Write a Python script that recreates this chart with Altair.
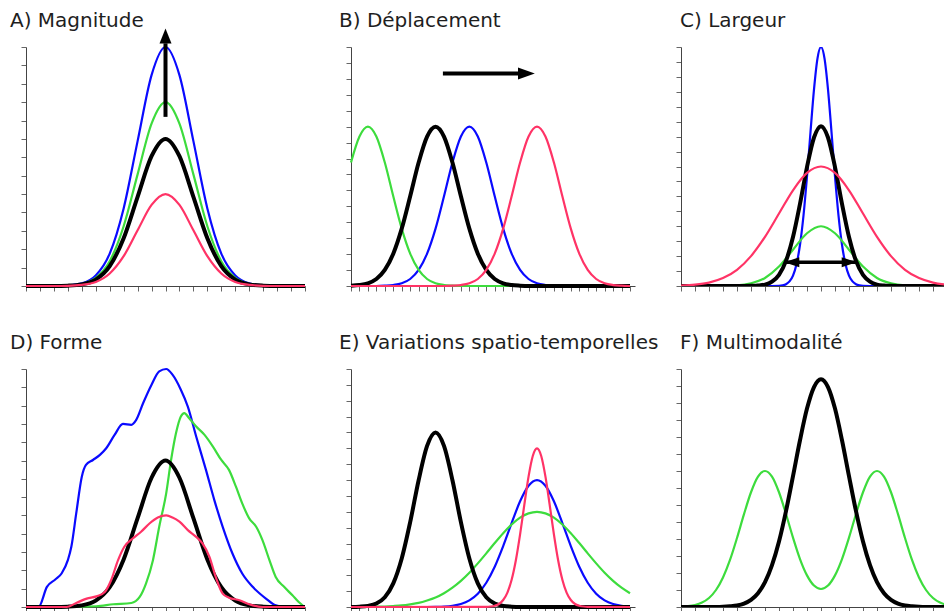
import altair as alt
import pandas as pd

BLUE = "#0a0aff"
GREEN = "#3ddc3d"
RED = "#ff3366"
BLACK = "#000000"

TITLES = ["A) Magnitude", "B) Déplacement", "C) Largeur",
          "D) Forme", "E) Variations spatio-temporelles", "F) Multimodalité"]

# ---------------- A) Magnitude ----------------
A_X = list(range(21))
A_BLUE = [0, 0, 0, 0.03, 0.14, 0.57, 1.76, 4.22, 7.88, 11.47, 13, 11.47, 7.88, 4.22, 1.76, 0.57, 0.14, 0.03, 0, 0, 0]
A_GREEN = [0, 0, 0, 0.02, 0.11, 0.44, 1.35, 3.25, 6.07, 8.83, 10, 8.83, 6.07, 3.25, 1.35, 0.44, 0.11, 0.02, 0, 0, 0]
A_BLACK = [0, 0, 0, 0.02, 0.09, 0.35, 1.08, 2.60, 4.85, 7.06, 8, 7.06, 4.85, 2.60, 1.08, 0.35, 0.09, 0.02, 0, 0, 0]
A_RED = [0, 0, 0, 0.01, 0.06, 0.22, 0.68, 1.62, 3.03, 4.41, 5, 4.41, 3.03, 1.62, 0.68, 0.22, 0.06, 0.01, 0, 0, 0]
A_ARROW = {"x": [10], "y": [9.2], "y2": [13.2]}
A_HEAD = {"x": [10], "y": [14.0]}

# ---------------- B) Deplacement ----------------
B_X = list(range(34))
B_GREEN = [7.75, 9.38, 10, 9.38, 7.75, 5.63, 3.60, 2.03, 1.01, 0.44, 0.17, 0.06, 0.02] + [0] * 21
B_BLACK = [0.02, 0.06, 0.17, 0.44, 1.01, 2.03, 3.60, 5.63, 7.75, 9.38, 10, 9.38, 7.75, 5.63, 3.60, 2.03,
           1.01, 0.44, 0.17, 0.06, 0.02] + [0] * 13
B_BLUE = [0] * 4 + [0.02, 0.06, 0.17, 0.44, 1.01, 2.03, 3.60, 5.63, 7.75, 9.38, 10, 9.38, 7.75, 5.63, 3.60,
                    2.03, 1.01, 0.44, 0.17, 0.06, 0.02] + [0] * 9
B_RED = [0] * 12 + [0.02, 0.06, 0.17, 0.44, 1.01, 2.03, 3.60, 5.63, 7.75, 9.38, 10, 9.38, 7.75, 5.63, 3.60,
                    2.03, 1.01, 0.44, 0.17, 0.06, 0.02] + [0]
B_ARROW = {"x": [10.87], "x2": [20.0], "y": [13.34]}
B_HEAD = {"x": [21.74], "y": [13.34]}

# ---------------- C) Largeur ----------------
C_X = list(range(21))
C_X_BLUE = [0, 6.5, 7.0, 7.25, 7.5, 7.75, 8.0, 8.25, 8.5, 8.75, 9.0, 9.25, 9.5, 9.75, 10.0, 10.25, 10.5,
            10.75, 11.0, 11.25, 11.5, 11.75, 12.0, 12.25, 12.5, 12.75, 13.0, 13.5, 20]
C_BLUE = [0, 0, 0.01, 0.04, 0.12, 0.31, 0.70, 1.46, 2.76, 4.72, 7.33, 10.31, 13.16, 15.24, 16, 15.24, 13.16,
          10.31, 7.33, 4.72, 2.76, 1.46, 0.70, 0.31, 0.12, 0.04, 0.01, 0, 0]
C_X_BLACK = [0, 4, 4.5, 5, 5.5, 6, 6.5, 7, 7.5, 8, 8.5, 9, 9.5, 10, 10.5, 11, 11.5, 12, 12.5, 13, 13.5, 14,
             14.5, 15, 15.5, 16, 20]
C_BLACK = [0, 0, 0, 0.01, 0.03, 0.09, 0.29, 0.75, 1.68, 3.28, 5.50, 7.96, 9.94, 10.7, 9.94, 7.96, 5.50, 3.28,
           1.68, 0.75, 0.29, 0.09, 0.03, 0.01, 0, 0, 0]
C_RED = [0.03, 0.09, 0.23, 0.53, 1.08, 2.00, 3.29, 4.85, 6.41, 7.57, 8, 7.57, 6.41, 4.85, 3.29, 2.00, 1.08,
         0.53, 0.23, 0.09, 0.03]
C_GREEN = [0, 0, 0, 0.01, 0.04, 0.18, 0.54, 1.30, 2.43, 3.53, 4, 3.53, 2.43, 1.30, 0.54, 0.18, 0.04, 0.01, 0, 0, 0]
C_ARROW = {"x": [7.38], "x2": [12.55], "y": [1.59]}
C_HEAD_L = {"x": [7.38], "y": [1.59]}
C_HEAD_R = {"x": [12.55], "y": [1.59]}

# ---------------- D) Forme ----------------
D_X = list(range(21))
D_BLACK = [0, 0, 0, 0.02, 0.09, 0.35, 1.08, 2.60, 4.85, 7.06, 8, 7.06, 4.85, 2.60, 1.08, 0.35, 0.09, 0.02, 0, 0, 0]
D_X_BLUE = [0, 0.9, 1.5, 2.1, 2.55, 3.0, 3.25, 3.6, 4.0, 4.3, 4.8, 5.3, 5.75, 6.35, 6.95, 7.55, 7.9, 8.4, 9.0,
            9.55, 10.05, 10.5, 11.1, 11.6, 12.2, 12.9, 13.5, 14.1, 14.8, 15.5, 16.25, 17.2, 17.9, 18.6, 20]
D_BLUE = [0, 0, 1.1, 1.5, 1.83, 2.56, 3.29, 5.11, 7.12, 7.76, 8.03, 8.31, 8.67, 9.40, 10.0, 9.95, 10.22, 11.14,
          12.14, 12.87, 13, 12.69, 11.87, 10.95, 9.31, 7.49, 5.84, 4.38, 2.92, 1.83, 1.10, 0.46, 0.09, 0, 0]
D_X_RED = [0, 1.95, 2.9, 3.6, 4.35, 5.05, 5.65, 6.1, 6.6, 7.05, 7.65, 8.25, 8.85, 9.45, 10.05, 10.5, 11.0,
           11.6, 12.2, 12.65, 13.15, 13.6, 14.1, 14.55, 15.3, 16.0, 16.95, 20]
D_RED = [0, 0, 0, 0.22, 0.46, 0.58, 0.82, 1.46, 2.56, 3.29, 3.74, 4.11, 4.56, 4.89, 5.0, 4.89, 4.66, 4.20, 3.83,
         3.47, 2.74, 1.64, 0.73, 0.51, 0.37, 0.15, 0, 0]
D_X_GREEN = [1.95, 5.05, 6.25, 7.55, 8.15, 8.6, 9.1, 9.55, 10.05, 10.4, 10.75, 11.1, 11.35, 11.7, 12.2, 12.8,
             13.4, 14.0, 14.55, 15.05, 15.5, 16.0, 16.5, 16.95, 17.45, 17.9, 18.5, 19.1, 19.55, 19.9]
D_GREEN = [0, 0.04, 0.15, 0.22, 0.55, 1.28, 2.56, 4.38, 6.21, 8.03, 9.49, 10.41, 10.59, 10.31, 9.86, 9.40, 8.76,
           8.03, 7.49, 6.57, 5.66, 4.84, 4.38, 3.65, 2.56, 1.64, 1.10, 0.64, 0.27, 0.04]

# ---------------- E) Variations spatio-temporelles ----------------
E_X = list(range(34))
E_BLACK = [0, 0.02, 0.07, 0.22, 0.62, 1.49, 3.06, 5.35, 7.99, 10.15, 11, 10.15, 7.99, 5.35, 3.06, 1.49, 0.62,
           0.22, 0.07, 0.02] + [0] * 14
E_GREEN = [0, 0.01, 0.01, 0.02, 0.03, 0.06, 0.10, 0.17, 0.26, 0.41, 0.60, 0.87, 1.22, 1.65, 2.16, 2.75, 3.38,
           4.03, 4.65, 5.20, 5.63, 5.90, 6, 5.90, 5.63, 5.20, 4.65, 4.03, 3.38, 2.75, 2.16, 1.65, 1.22, 0.87]
E_BLUE = [0] * 10 + [0.01, 0.03, 0.08, 0.19, 0.42, 0.84, 1.53, 2.54, 3.84, 5.29, 6.66, 7.64, 8, 7.64, 6.66,
                     5.29, 3.84, 2.54, 1.53, 0.84, 0.42, 0.19, 0.08, 0.03]
E_X_RED = [0, 16, 16.5, 17, 17.5, 18, 18.5, 19, 19.5, 20, 20.5, 21, 21.5, 22, 22.5, 23, 23.5, 24, 24.5, 25,
           25.5, 26, 26.5, 27, 27.5, 28, 33]
E_RED = [0, 0.01, 0.03, 0.08, 0.19, 0.44, 0.91, 1.72, 2.95, 4.58, 6.44, 8.22, 9.52, 10, 9.52, 8.22, 6.44, 4.58,
         2.95, 1.72, 0.91, 0.44, 0.19, 0.08, 0.03, 0.01, 0]

# ---------------- F) Multimodalite ----------------
F_X = [i / 2 for i in range(41)]
F_GREEN = [0.02, 0.05, 0.12, 0.26, 0.53, 1.00, 1.74, 2.77, 4.06, 5.46, 6.75, 7.67, 8, 7.67, 6.75, 5.47, 4.08,
           2.82, 1.86, 1.26, 1.06, 1.26, 1.86, 2.82, 4.08, 5.47, 6.75, 7.67, 8, 7.67, 6.75, 5.46, 4.06, 2.77,
           1.74, 1.00, 0.53, 0.26, 0.12, 0.05, 0.02]
F_BLACK = [0, 0, 0, 0, 0, 0, 0.01, 0.04, 0.09, 0.20, 0.42, 0.81, 1.46, 2.46, 3.85, 5.64, 7.70, 9.81, 11.67,
           12.94, 13.4, 12.94, 11.67, 9.81, 7.70, 5.64, 3.85, 2.46, 1.46, 0.81, 0.42, 0.20, 0.09, 0.04, 0.01,
           0, 0, 0, 0, 0, 0]

UP_HEAD = "M0,0L-1,2.5L1,2.5Z"
RIGHT_HEAD = "M0,0L-2.8,-1L-2.8,1Z"
C_RIGHT = "M0,0L-3,-1L-3,1Z"
C_LEFT = "M0,0L3,-1L3,1Z"


def encs(xmax, ymax, xdom_max=None):
    xe = alt.X("x:Q", scale=alt.Scale(domain=[0, xdom_max if xdom_max else xmax], nice=False, zero=False),
               axis=alt.Axis(values=list(range(xmax + 1))))
    ye = alt.Y("y:Q", scale=alt.Scale(domain=[0, ymax], nice=False, zero=False),
               axis=alt.Axis(values=list(range(ymax + 1))))
    return xe, ye


def curve(xs, ys, color, width, xe, ye, clip):
    df = pd.DataFrame({"x": xs, "y": ys})
    return alt.Chart(df).mark_line(color=color, strokeWidth=width, interpolate="monotone", clip=clip,
                                   strokeJoin="round", strokeCap="butt").encode(x=xe, y=ye)


def title_layer(text, dx):
    df = pd.DataFrame({"t": [text]})
    return alt.Chart(df).mark_text(align="left", baseline="alphabetic", fontSize=20, font="DejaVu Sans",
                                   color="#1e1e1e").encode(x=alt.value(dx), y=alt.value(-20), text="t:N")


def head(data, shape, size, xe, ye):
    return alt.Chart(pd.DataFrame(data)).mark_point(shape=shape, size=size, filled=True, color=BLACK,
                                                    opacity=1, strokeWidth=0).encode(x=xe, y=ye)


def make_panel(title, dx, xmax, ymax, curves, extras, w, h, xdom_max=None, clip=False):
    xe, ye = encs(xmax, ymax, xdom_max)
    layers = [curve(xs, ys, c, sw, xe, ye, clip) for xs, ys, c, sw in curves]
    layers += [f(xe, ye) for f in extras]
    layers.append(title_layer(title, dx))
    return alt.layer(*layers).properties(width=w, height=h)


def arrow_a(xe, ye):
    shaft = alt.Chart(pd.DataFrame(A_ARROW)).mark_rule(strokeWidth=4, color=BLACK).encode(x=xe, y=ye, y2="y2:Q")
    return alt.layer(shaft, head(A_HEAD, UP_HEAD, 144, xe, ye))


def arrow_b(xe, ye):
    shaft = alt.Chart(pd.DataFrame(B_ARROW)).mark_rule(strokeWidth=4, color=BLACK).encode(x=xe, x2="x2:Q", y=ye)
    return alt.layer(shaft, head(B_HEAD, RIGHT_HEAD, 144, xe, ye))


def arrow_c(xe, ye):
    shaft = alt.Chart(pd.DataFrame(C_ARROW)).mark_rule(strokeWidth=3.5, color=BLACK).encode(x=xe, x2="x2:Q", y=ye)
    return alt.layer(shaft, head(C_HEAD_R, C_RIGHT, 100, xe, ye), head(C_HEAD_L, C_LEFT, 100, xe, ye))


TW = 2.2
KW = 4
BW = 284
B_DOM = 33 * BW / 279.0
CW = 263
C_DOM = CW / 14.0

pA = make_panel(TITLES[0], -16, 20, 13,
                [(A_X, A_BLUE, BLUE, TW), (A_X, A_GREEN, GREEN, TW), (A_X, A_BLACK, BLACK, KW),
                 (A_X, A_RED, RED, TW)], [arrow_a], 279, 239)
pB = make_panel(TITLES[1], -12, 33, 15,
                [(B_X, B_BLUE, BLUE, TW), (B_X, B_GREEN, GREEN, TW), (B_X, B_BLACK, BLACK, KW),
                 (B_X, B_RED, RED, TW)], [arrow_b], BW, 239, B_DOM)
pC = make_panel(TITLES[2], -1, 18, 16,
                [(C_X_BLUE, C_BLUE, BLUE, TW), (C_X, C_GREEN, GREEN, TW), (C_X_BLACK, C_BLACK, BLACK, KW),
                 (C_X, C_RED, RED, TW)], [arrow_c], CW, 239, C_DOM, clip=True)
pD = make_panel(TITLES[3], -16, 20, 13,
                [(D_X_BLUE, D_BLUE, BLUE, TW), (D_X_GREEN, D_GREEN, GREEN, TW), (D_X, D_BLACK, BLACK, KW),
                 (D_X_RED, D_RED, RED, TW)], [], 279, 238)
pE = make_panel(TITLES[4], -12, 33, 15,
                [(E_X, E_BLUE, BLUE, TW), (E_X, E_GREEN, GREEN, TW), (E_X, E_BLACK, BLACK, KW),
                 (E_X_RED, E_RED, RED, TW)], [], BW, 238, B_DOM)
pF = make_panel(TITLES[5], -1, 18, 14,
                [(F_X, F_GREEN, GREEN, TW), (F_X, F_BLACK, BLACK, KW)], [], CW, 238, C_DOM, clip=True)

chart = alt.concat(pA, pB, pC, pD, pE, pF, columns=3, bounds="flush",
                   spacing={"row": 83, "column": 46}).properties(
    padding={"left": 2, "top": 3, "right": 0, "bottom": 0}
).configure_axis(
    labels=False, grid=False, title=None, tickSize=5, tickColor="#666666", domainColor="#444444",
    domainWidth=1, tickWidth=1
).configure_view(stroke=None)

chart.save("out.html", embed_options={"renderer": "svg", "actions": False})
